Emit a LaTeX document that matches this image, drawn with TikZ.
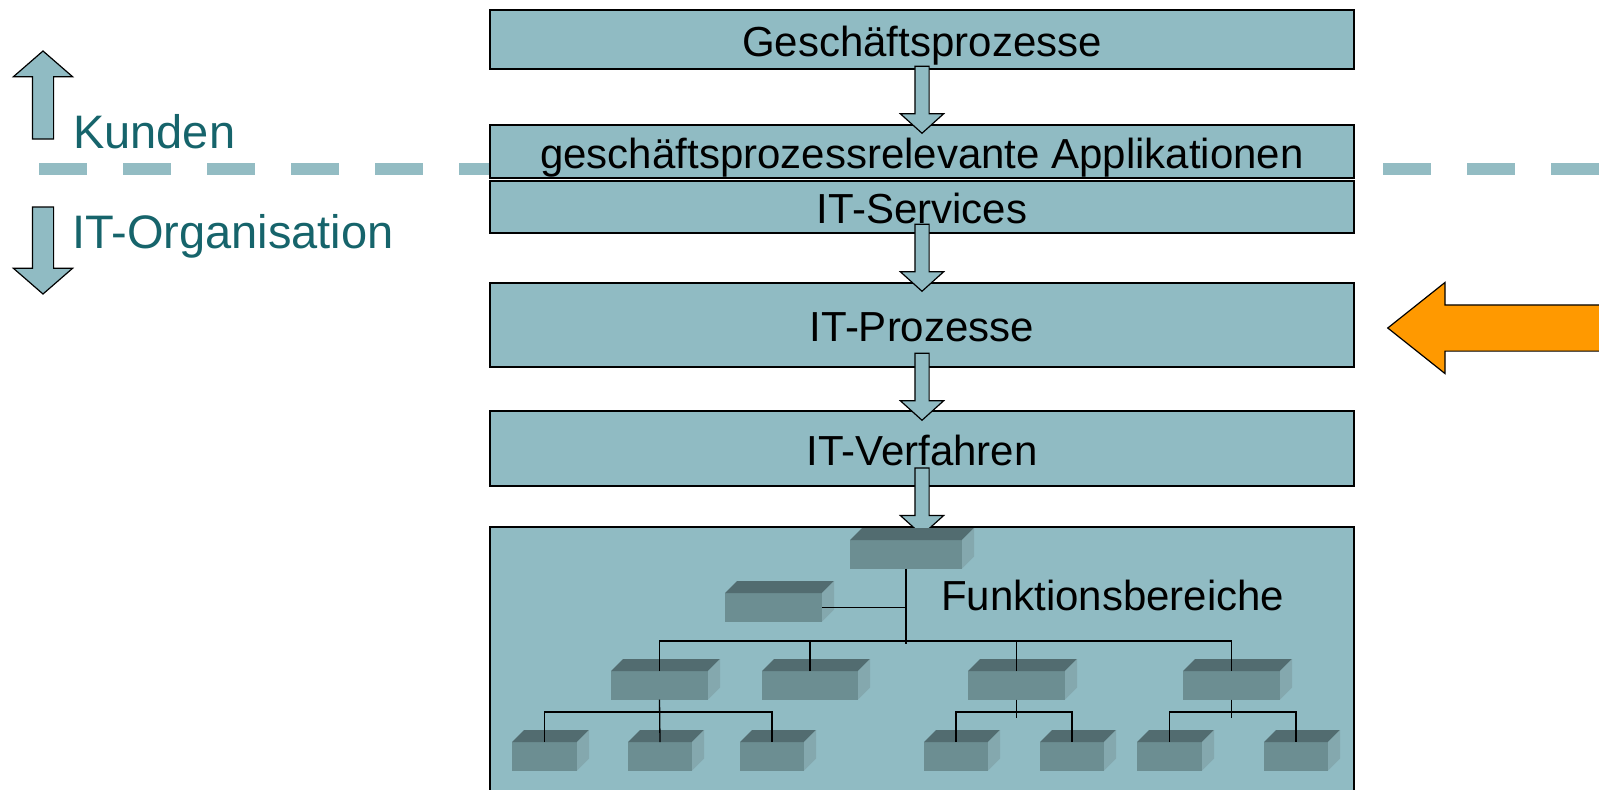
\documentclass[tikz,border=0pt]{standalone}
\usepackage{fontspec}
\setmainfont{Liberation Sans}
\usetikzlibrary{shapes.arrows}
\usetikzlibrary{calc}

\definecolor{layerBlue}{RGB}{144,187,195}
\definecolor{lineBlue}{RGB}{147,188,195}
\definecolor{labelTeal}{RGB}{22,100,107}
\definecolor{orgFront}{RGB}{108,142,146}
\definecolor{orgTop}{RGB}{82,108,112}
\definecolor{orgSide}{RGB}{132,168,174}
\definecolor{extOrange}{RGB}{255,153,0}

% one block of the org chart: name, x, y (front face, top left), width
\newcommand{\OrgBlock}[4]{%
	\node[orgFrontStyle, minimum width = #4, anchor = north west] (#1) at (#2, #3) {};
	\fill[orgTop] (#1.north west) -- ++(12, -12) -- ($(#1.north east) + (12, -12)$) -- (#1.north east) -- cycle;
	\fill[orgSide] (#1.north east) -- ++(12, -12) -- ($(#1.south east) + (12, -12)$) -- (#1.south east) -- cycle;
}

\begin{document}
\begin{tikzpicture}[x = 1pt, y = -1pt]
	\tikzstyle{layerStyle} = [draw = black, line width = 1.5pt, fill = layerBlue, inner sep = 0pt, minimum width = 864, text height = 33pt, text depth = 0pt, font = \fontsize{42}{50}\selectfont]
	\tikzstyle{downArrowStyle} = [single arrow, draw = black, line width = 1.2pt, fill = layerBlue, inner xsep = 0pt, inner ysep = 6.5pt, outer sep = 0pt, rotate = -90, minimum height = 67, single arrow head extend = 14.5, single arrow tip angle = 96, anchor = tip]
	\tikzstyle{sideArrowStyle} = [single arrow, draw = black, line width = 1.2pt, fill = layerBlue, inner xsep = 0pt, inner ysep = 10pt, outer sep = 0pt, single arrow head extend = 19, single arrow tip angle = 98, anchor = tip]
	\tikzstyle{sideLabelStyle} = [text = labelTeal, inner sep = 0pt, anchor = base west, font = \fontsize{47}{56}\selectfont]
	\tikzstyle{orgFrontStyle} = [fill = orgFront, inner sep = 0pt, outer sep = 0pt, minimum height = 28.5]
	\tikzstyle{orgLineStyle} = [draw = black, line width = 1.3pt]
	\useasboundingbox (0, 0) rectangle (1599, 790);
	% border between customers and IT
	\draw[lineBlue, line width = 12pt, dash pattern = on 48pt off 36pt] (39, 169) -- (1650, 169);
	% layers
	\node[layerStyle, minimum height = 59] (gp) at (922, 39.5) {Geschäftsprozesse};
	\node[layerStyle, minimum height = 53] (gpa) at (922, 151.5) {geschäftsprozessrelevante Applikationen};
	\node[layerStyle, minimum height = 52] (its) at (922, 207) {IT-Services};
	\node[layerStyle, minimum height = 84] (itp) at (922, 325) {IT-Prozesse};
	\node[layerStyle, minimum height = 75] (itv) at (922, 448.5) {IT-Verfahren};
	\node[layerStyle, minimum height = 300, anchor = north] (fb) at (922, 526) {};
	% arrows between the layers
	\node[downArrowStyle] (a1) at ($(gpa.north) + (0, 9)$) {};
	\node[downArrowStyle] (a2) at ($(itp.north) + (0, 9)$) {};
	\node[downArrowStyle] (a3) at ($(itv.north) + (0, 10)$) {};
	\node[downArrowStyle] (a4) at ($(fb.north) + (0, 9)$) {};
	% customers / IT organisation
	\node[sideArrowStyle, rotate = 90, minimum height = 88] (up) at (43, 51) {};
	\node[sideArrowStyle, rotate = -90, minimum height = 87] (down) at (43, 294) {};
	\node[sideLabelStyle] (kunden) at (73, 148) {Kunden};
	\node[sideLabelStyle] (itorg) at (72, 248) {IT-Organisation};
	% outside arrow
	\node[single arrow, draw = black, line width = 1.2pt, fill = extOrange, inner xsep = 0pt, inner ysep = 22.5pt, outer sep = 0pt, rotate = 180, minimum height = 260, single arrow head extend = 22.5, single arrow tip angle = 77, anchor = tip] (ext) at ($(itp.east) + (33, 3)$) {};
	% org chart
	\OrgBlock{r}{850}{540}{112}
	\OrgBlock{a}{725}{593}{97}
	\OrgBlock{b1}{611}{671}{97}
	\OrgBlock{b2}{762}{671}{96}
	\OrgBlock{b3}{968}{671}{97}
	\OrgBlock{b4}{1183}{671}{97}
	\OrgBlock{c1}{512}{742}{65}
	\OrgBlock{c2}{628}{742}{64}
	\OrgBlock{c3}{740}{742}{64}
	\OrgBlock{c4}{924}{742}{64}
	\OrgBlock{c5}{1040}{742}{64}
	\OrgBlock{c6}{1137}{742}{65}
	\OrgBlock{c7}{1264}{742}{64}
	\draw[orgLineStyle] (r.south) -- ++(0, 75);
	\draw[orgLineStyle] (a.east) -- (r.south |- a.east);
	\draw[orgLineStyle] (b1.north) -- ++(0, -30) -| (b4.north);
	\draw[orgLineStyle] (b2.north) -- ++(0, -30);
	\draw[orgLineStyle] (b3.north) -- ++(0, -30);
	\draw[orgLineStyle] (b1.south) -- (c2.north);
	\draw[orgLineStyle] (c1.north) -- ++(0, -30) -| (c3.north);
	\draw[orgLineStyle] (b3.south) -- ++(0, 18);
	\draw[orgLineStyle] (c4.north) -- ++(0, -30) -| (c5.north);
	\draw[orgLineStyle] (b4.south) -- ++(0, 18);
	\draw[orgLineStyle] (c6.north) -- ++(0, -30) -| (c7.north);
	\node[inner sep = 0pt, anchor = base west, font = \fontsize{42}{50}\selectfont] (fbl) at (941, 610) {Funktionsbereiche};
\end{tikzpicture}
\end{document}
